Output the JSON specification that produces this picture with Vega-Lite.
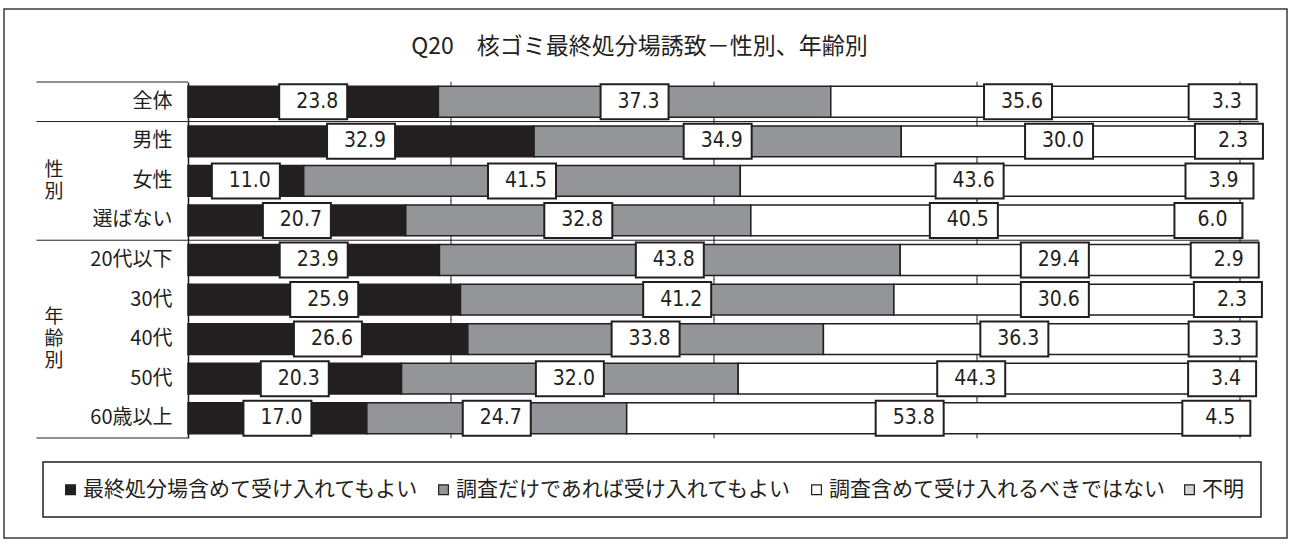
{
  "$schema": "https://vega.github.io/schema/vega-lite/v6.json",
  "width": 1283,
  "height": 529,
  "autosize": "none",
  "padding": {"left": 4, "top": 9, "right": 5, "bottom": 6},
  "background": "white",
  "title": {
    "text": "Q20　核ゴミ最終処分場誘致－性別、年齢別",
    "font": "Noto Sans CJK JP",
    "fontSize": 23,
    "fontWeight": "normal",
    "color": "#231f20",
    "anchor": "middle",
    "offset": 0,
    "baseline": "middle",
    "dy": 61,
    "dx": -6
  },
  "config": {
    "view": {"stroke": "#3a3a3a", "strokeWidth": 1.5},
    "legend": {"strokeWidth": 1.5}
  },
  "datasets": {
    "d": [
      {"row": "全体", "cat": "最終処分場含めて受け入れてもよい", "k": 1, "value": 23.8},
      {"row": "全体", "cat": "調査だけであれば受け入れてもよい", "k": 2, "value": 37.3},
      {"row": "全体", "cat": "調査含めて受け入れるべきではない", "k": 3, "value": 35.6},
      {"row": "全体", "cat": "不明", "k": 4, "value": 3.3},
      {"row": "男性", "cat": "最終処分場含めて受け入れてもよい", "k": 1, "value": 32.9},
      {"row": "男性", "cat": "調査だけであれば受け入れてもよい", "k": 2, "value": 34.9},
      {"row": "男性", "cat": "調査含めて受け入れるべきではない", "k": 3, "value": 30.0},
      {"row": "男性", "cat": "不明", "k": 4, "value": 2.3},
      {"row": "女性", "cat": "最終処分場含めて受け入れてもよい", "k": 1, "value": 11.0},
      {"row": "女性", "cat": "調査だけであれば受け入れてもよい", "k": 2, "value": 41.5},
      {"row": "女性", "cat": "調査含めて受け入れるべきではない", "k": 3, "value": 43.6},
      {"row": "女性", "cat": "不明", "k": 4, "value": 3.9},
      {"row": "選ばない", "cat": "最終処分場含めて受け入れてもよい", "k": 1, "value": 20.7},
      {"row": "選ばない", "cat": "調査だけであれば受け入れてもよい", "k": 2, "value": 32.8},
      {"row": "選ばない", "cat": "調査含めて受け入れるべきではない", "k": 3, "value": 40.5},
      {"row": "選ばない", "cat": "不明", "k": 4, "value": 6.0},
      {"row": "20代以下", "cat": "最終処分場含めて受け入れてもよい", "k": 1, "value": 23.9},
      {"row": "20代以下", "cat": "調査だけであれば受け入れてもよい", "k": 2, "value": 43.8},
      {"row": "20代以下", "cat": "調査含めて受け入れるべきではない", "k": 3, "value": 29.4},
      {"row": "20代以下", "cat": "不明", "k": 4, "value": 2.9},
      {"row": "30代", "cat": "最終処分場含めて受け入れてもよい", "k": 1, "value": 25.9},
      {"row": "30代", "cat": "調査だけであれば受け入れてもよい", "k": 2, "value": 41.2},
      {"row": "30代", "cat": "調査含めて受け入れるべきではない", "k": 3, "value": 30.6},
      {"row": "30代", "cat": "不明", "k": 4, "value": 2.3},
      {"row": "40代", "cat": "最終処分場含めて受け入れてもよい", "k": 1, "value": 26.6},
      {"row": "40代", "cat": "調査だけであれば受け入れてもよい", "k": 2, "value": 33.8},
      {"row": "40代", "cat": "調査含めて受け入れるべきではない", "k": 3, "value": 36.3},
      {"row": "40代", "cat": "不明", "k": 4, "value": 3.3},
      {"row": "50代", "cat": "最終処分場含めて受け入れてもよい", "k": 1, "value": 20.3},
      {"row": "50代", "cat": "調査だけであれば受け入れてもよい", "k": 2, "value": 32.0},
      {"row": "50代", "cat": "調査含めて受け入れるべきではない", "k": 3, "value": 44.3},
      {"row": "50代", "cat": "不明", "k": 4, "value": 3.4},
      {"row": "60歳以上", "cat": "最終処分場含めて受け入れてもよい", "k": 1, "value": 17.0},
      {"row": "60歳以上", "cat": "調査だけであれば受け入れてもよい", "k": 2, "value": 24.7},
      {"row": "60歳以上", "cat": "調査含めて受け入れるべきではない", "k": 3, "value": 53.8},
      {"row": "60歳以上", "cat": "不明", "k": 4, "value": 4.5}
    ],
    "rows": [
      {"row": "全体"}, {"row": "男性"}, {"row": "女性"}, {"row": "選ばない"},
      {"row": "20代以下"}, {"row": "30代"}, {"row": "40代"}, {"row": "50代"}, {"row": "60歳以上"}
    ]
  },
  "layer": [
    {
      "data": {"name": "rows"},
      "mark": {"type": "tick", "orient": "vertical", "size": 40, "thickness": 1, "color": "#231f20", "opacity": 1},
      "encoding": {
        "x": {"datum": 25, "type": "quantitative", "scale": {"domain": [0, 100], "range": [184, 1236], "nice": false, "zero": false}, "axis": null},
        "y": {"field": "row", "type": "nominal", "sort": null,
              "scale": {"domain": ["全体", "男性", "女性", "選ばない", "20代以下", "30代", "40代", "50代", "60歳以上"], "range": [73, 429], "paddingInner": 0, "paddingOuter": 0},
              "axis": {"orient": "left", "offset": -184, "title": null, "ticks": false, "domain": true, "domainColor": "#231f20", "domainWidth": 1.5, "labelFontSize": 20, "labelFont": "Noto Sans CJK JP", "labelColor": "#231f20", "labelPadding": 16, "grid": false, "labelLimit": 200}}
      }
    },
    {
      "data": {"name": "rows"},
      "mark": {"type": "tick", "orient": "vertical", "size": 40, "thickness": 1, "color": "#231f20", "opacity": 1},
      "encoding": {"x": {"datum": 50, "type": "quantitative"}, "y": {"field": "row", "type": "nominal"}}
    },
    {
      "data": {"name": "rows"},
      "mark": {"type": "tick", "orient": "vertical", "size": 40, "thickness": 1, "color": "#231f20", "opacity": 1},
      "encoding": {"x": {"datum": 75, "type": "quantitative"}, "y": {"field": "row", "type": "nominal"}}
    },
    {
      "data": {"name": "rows"},
      "mark": {"type": "tick", "orient": "vertical", "size": 40, "thickness": 1, "color": "#231f20", "opacity": 1},
      "encoding": {"x": {"datum": 100, "type": "quantitative"}, "y": {"field": "row", "type": "nominal"}}
    },
    {
      "data": {"values": [{"row": "全体"}]},
      "mark": {"type": "rule", "color": "#231f20", "strokeWidth": 1},
      "encoding": {
        "y": {"field": "row", "type": "nominal", "bandPosition": 0},
        "x": {"datum": -14.4, "type": "quantitative"},
        "x2": {"datum": 0}
      }
    },
    {
      "data": {"values": [{"row": "男性"}, {"row": "20代以下"}]},
      "mark": {"type": "rule", "color": "#231f20", "strokeWidth": 1},
      "encoding": {
        "y": {"field": "row", "type": "nominal", "bandPosition": 0},
        "x": {"datum": -14.4, "type": "quantitative"},
        "x2": {"datum": 101.8}
      }
    },
    {
      "data": {"values": [{"row": "60歳以上"}]},
      "mark": {"type": "rule", "color": "#231f20", "strokeWidth": 1},
      "encoding": {
        "y": {"field": "row", "type": "nominal", "bandPosition": 1},
        "x": {"datum": -14.4, "type": "quantitative"},
        "x2": {"datum": 0}
      }
    },
    {
      "data": {"values": [{"row": "女性", "label": "性\n別"}]},
      "mark": {"type": "text", "lineBreak": "\n", "font": "Noto Sans CJK JP", "fontSize": 19, "lineHeight": 22, "align": "center", "baseline": "middle", "color": "#231f20", "dy": -11},
      "encoding": {
        "y": {"field": "row", "type": "nominal"},
        "x": {"datum": -12.74, "type": "quantitative"},
        "text": {"field": "label"}
      }
    },
    {
      "data": {"values": [{"row": "40代", "label": "年\n齢\n別"}]},
      "mark": {"type": "text", "lineBreak": "\n", "font": "Noto Sans CJK JP", "fontSize": 19, "lineHeight": 22, "align": "center", "baseline": "middle", "color": "#231f20", "dy": -22},
      "encoding": {
        "y": {"field": "row", "type": "nominal"},
        "x": {"datum": -12.74, "type": "quantitative"},
        "text": {"field": "label"}
      }
    },
    {
      "data": {"name": "d"},
      "mark": {"type": "bar", "height": {"band": 0.78}, "stroke": "#231f20", "strokeWidth": 1.5},
      "encoding": {
        "y": {"field": "row", "type": "nominal"},
        "x": {"field": "value", "type": "quantitative", "stack": "zero"},
        "order": {"field": "k", "type": "quantitative"},
        "color": {
          "field": "cat", "type": "nominal",
          "scale": {
            "domain": ["最終処分場含めて受け入れてもよい", "調査だけであれば受け入れてもよい", "調査含めて受け入れるべきではない", "不明"],
            "range": ["#231f20", "#939598", "#ffffff", "#d1d3d4"]
          },
          "legend": {
            "orient": "none", "legendX": 39, "legendY": 453, "direction": "horizontal", "title": null,
            "columns": 4, "columnPadding": 14, "padding": 17,
            "strokeColor": "#231f20", "fillColor": "#ffffff",
            "labelFont": "Noto Sans CJK JP", "labelFontSize": 21, "labelColor": "#231f20", "labelOffset": 2, "labelLimit": 500,
            "symbolType": "square", "symbolSize": 95, "symbolStrokeColor": "#231f20", "symbolStrokeWidth": 1.2, "symbolOpacity": 1
          }
        }
      }
    },
    {
      "data": {"name": "d"},
      "mark": {"type": "point", "shape": "M-1,-0.515L1,-0.515L1,0.515L-1,0.515Z", "size": 4624, "filled": true, "fill": "#ffffff", "stroke": "#231f20", "strokeWidth": 2, "opacity": 1},
      "encoding": {
        "y": {"field": "row", "type": "nominal"},
        "x": {"field": "value", "type": "quantitative", "stack": "zero", "bandPosition": 0.5},
        "order": {"field": "k", "type": "quantitative"},
        "detail": {"field": "cat", "type": "nominal"}
      }
    },
    {
      "data": {"name": "d"},
      "mark": {"type": "text", "font": "Liberation Sans Narrow, DejaVu Sans Condensed, sans-serif", "fontSize": 21, "color": "#231f20", "align": "center", "baseline": "middle", "dx": 4},
      "encoding": {
        "y": {"field": "row", "type": "nominal"},
        "x": {"field": "value", "type": "quantitative", "stack": "zero", "bandPosition": 0.5},
        "order": {"field": "k", "type": "quantitative"},
        "detail": {"field": "cat", "type": "nominal"},
        "text": {"field": "value", "type": "quantitative", "format": ".1f"}
      }
    }
  ]
}
